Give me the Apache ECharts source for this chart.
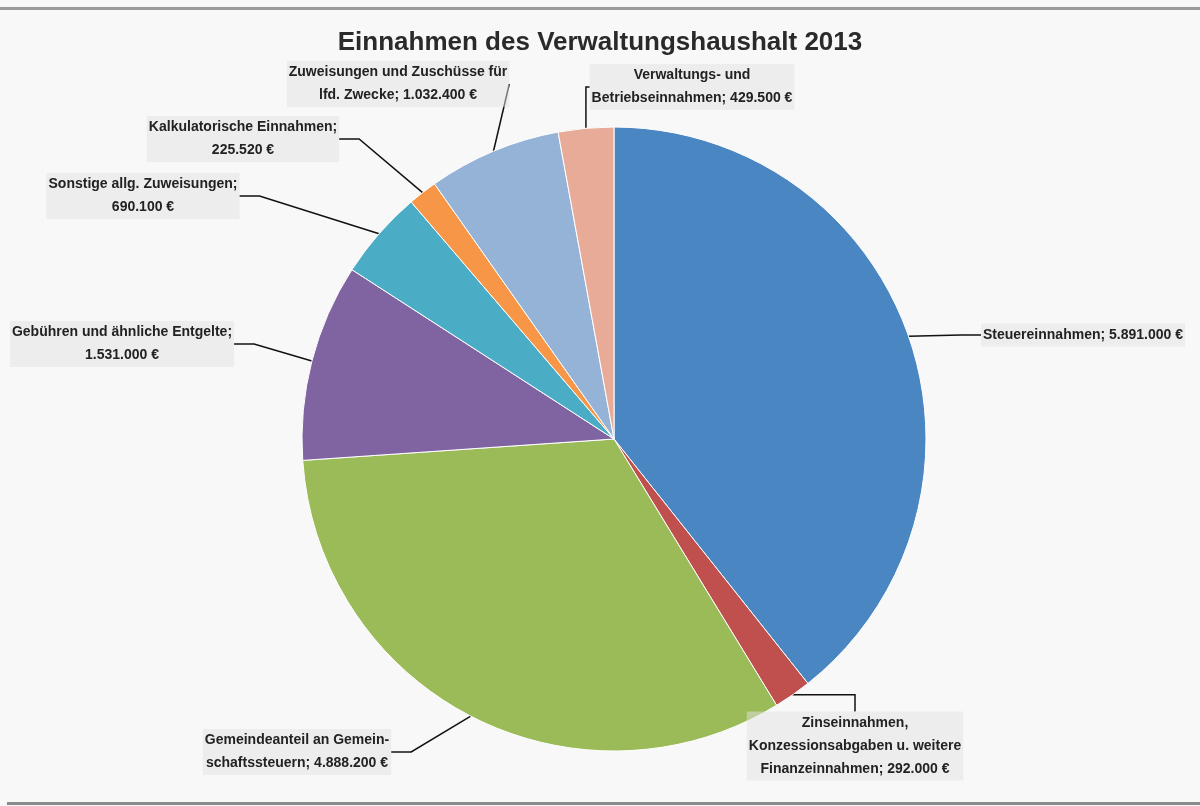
<!DOCTYPE html>
<html>
<head>
<meta charset="utf-8">
<script src="https://cdn.jsdelivr.net/npm/echarts@6/dist/echarts.min.js"></script>
<style>
html,body{margin:0;padding:0;background:#f8f8f8;}
#chart{width:1200px;height:806px;}
</style>
</head>
<body>
<div id="chart"></div>
<script>
const categories = [
  'Steuereinnahmen',
  'Zinseinnahmen, Konzessionsabgaben u. weitere Finanzeinnahmen',
  'Gemeindeanteil an Gemeinschaftssteuern',
  'Gebühren und ähnliche Entgelte',
  'Sonstige allg. Zuweisungen',
  'Kalkulatorische Einnahmen',
  'Zuweisungen und Zuschüsse für lfd. Zwecke',
  'Verwaltungs- und Betriebseinnahmen'
];
const values = [5891000, 292000, 4888200, 1531000, 690100, 225520, 1032400, 429500];
const labelTexts = [
  'Steuereinnahmen; 5.891.000 €',
  'Zinseinnahmen,\nKonzessionsabgaben u. weitere\nFinanzeinnahmen; 292.000 €',
  'Gemeindeanteil an Gemein-\nschaftssteuern; 4.888.200 €',
  'Gebühren und ähnliche Entgelte;\n1.531.000 €',
  'Sonstige allg. Zuweisungen;\n690.100 €',
  'Kalkulatorische Einnahmen;\n225.520 €',
  'Zuweisungen und Zuschüsse für\nlfd. Zwecke; 1.032.400 €',
  'Verwaltungs- und\nBetriebseinnahmen; 429.500 €'
];
const colors = ['#4a86c2', '#c0504d', '#9bbb59', '#8064a2', '#4bacc6', '#f79646', '#95b3d7', '#e8ab98'];
// label anchor positions (x, y) and alignment
const labelPos = [
  [981, 335, 'left'],
  [855, 746, 'center'],
  [297, 752, 'center'],
  [122, 344, 'center'],
  [143, 196, 'center'],
  [243, 139, 'center'],
  [398, 84, 'center'],
  [692, 87, 'center']
];

const chart = echarts.init(document.getElementById('chart'));
chart.setOption({
  backgroundColor: '#f8f8f8',
  title: {
    text: 'Einnahmen des Verwaltungshaushalt 2013',
    left: 'center',
    top: 25,
    textStyle: {fontFamily: 'Liberation Sans', fontSize: 26, fontWeight: 'bold', color: '#2a2a2a'}
  },
  graphic: [
    {type: 'rect', shape: {x: 0, y: 7, width: 1200, height: 3}, style: {fill: '#9a9a9a'}},
    {type: 'rect', shape: {x: 7, y: 802, width: 1193, height: 3}, style: {fill: '#8a8a8a'}}
  ],
  series: [{
    type: 'pie',
    center: [614, 439],
    radius: [0, 312],
    startAngle: 90,
    clockwise: true,
    animation: false,
    color: colors,
    itemStyle: {borderColor: '#ffffff', borderWidth: 1},
    data: categories.map((c, i) => ({name: c, value: values[i]})),
    label: {
      show: true,
      formatter: p => labelTexts[p.dataIndex],
      fontFamily: 'Liberation Sans',
      fontSize: 14,
      fontWeight: 'bold',
      color: '#222',
      lineHeight: 23,
      backgroundColor: 'rgba(225,225,225,0.5)',
      padding: [0, 2]
    },
    labelLine: {show: true, length: 20, length2: 20, lineStyle: {color: '#111', width: 1.5}},
    labelLayout: function (params) {
      const p = labelPos[params.dataIndex];
      return {x: p[0], y: p[1], align: p[2], verticalAlign: 'middle'};
    }
  }]
});
</script>
</body>
</html>
